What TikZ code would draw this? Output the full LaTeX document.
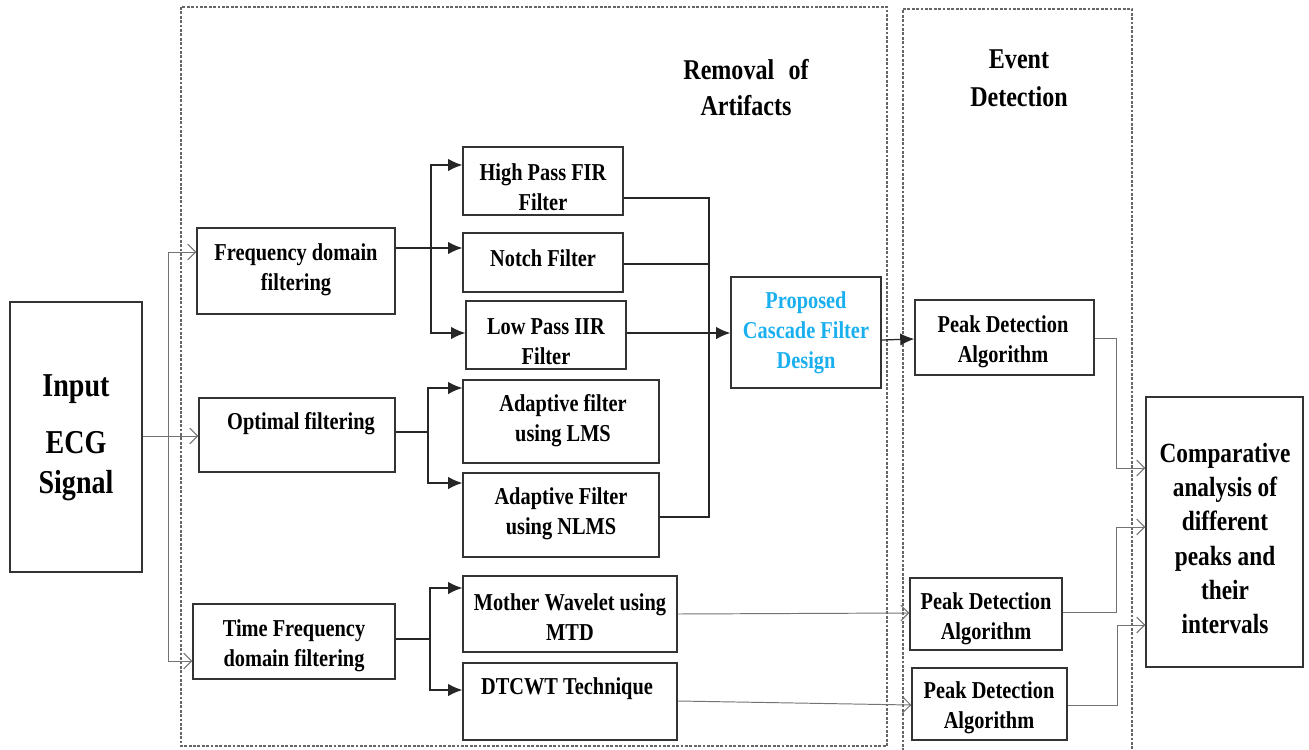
\documentclass[tikz,border=0pt]{standalone}
\usepackage{fontspec}
\setmainfont{Liberation Serif}[FakeStretch=0.84]
\usetikzlibrary{arrows.meta,fit}
\definecolor{cascadeblue}{HTML}{1AAFEF}

\begin{document}
\begin{tikzpicture}[x=0.02cm,y=-0.02cm,
  box/.style={draw=black!80, line width=0.8pt, inner sep=0pt},
  frame/.style={draw=black!60, dash pattern=on 1.6pt off 0.9pt, line width=0.6pt},
  lbl/.style={font=\bfseries\fontsize{13.8}{17}\selectfont, align=center, inner sep=0pt, yshift=-1.4pt},
  feed/.style={line width=0.7pt, draw=black!85},
  fed/.style={feed, -{Latex[length=8pt,width=7pt]}},
  wire/.style={line width=0.55pt, draw=black!55},
  wirearr/.style={wire, -{Straight Barb[length=4.5pt,width=9pt]}},
]
\useasboundingbox (0,0) rectangle (1309,750);

% stage frames
\draw[frame] (181,7) rectangle (887,746);
\draw[frame] (903,760) -- (903,9) -- (1132,9) -- (1132,760);

\node[lbl, font=\bfseries\fontsize{16.3}{20.5}\selectfont] (ttl1) at (746,85) {Removal\enspace of\\Artifacts};
\node[lbl, font=\bfseries\fontsize{16.3}{21.5}\selectfont] (ttl2) at (1019,76) {Event\\Detection};

% input
\node[box, fit={(10,302) (142,572)}] (input) {};
\node[lbl, font=\bfseries\fontsize{19}{22}\selectfont] (in1) at (76,387) {Input};
\node[lbl, font=\bfseries\fontsize{19}{22}\selectfont] (in2) at (76,440) {ECG};
\node[lbl, font=\bfseries\fontsize{19}{22}\selectfont] (in3) at (76,483) {Signal};

% filtering families
\node[box, fit={(197,228) (395,314)}] (freq) {};
\node[lbl] at (296,267) {Frequency domain\\filtering};
\node[box, fit={(199,398) (395,472)}] (opt) {};
\node[lbl] at (301,421) {Optimal filtering};
\node[box, fit={(193,604) (395,679)}] (tf) {};
\node[lbl] at (294,643) {Time Frequency\\domain filtering};

% individual filters
\node[box, fit={(463,147) (623,215)}] (hp) {};
\node[lbl] at (543,185) {High Pass FIR\\Filter};
\node[box, fit={(463,233) (623,292)}] (notch) {};
\node[lbl] at (543,256) {Notch Filter};
\node[box, fit={(466,301) (626,369)}] (lp) {};
\node[lbl] at (546,339) {Low Pass IIR\\Filter};
\node[box, fit={(463,380) (659,463)}] (lms) {};
\node[lbl] at (563,418) {Adaptive filter\\using LMS};
\node[box, fit={(463,473) (659,557)}] (nlms) {};
\node[lbl] at (561,511) {Adaptive Filter\\using NLMS};
\node[box, fit={(463,576) (677,652)}] (mtd) {};
\node[lbl] at (570,615) {Mother Wavelet using\\MTD};
\node[box, fit={(463,663) (677,740)}] (dtc) {};
\node[lbl] at (567,686) {DTCWT Technique};

% cascade design
\node[box, fit={(731,277) (881,388)}] (casc) {};
\node[lbl, text=cascadeblue] at (806,330) {Proposed\\Cascade Filter\\Design};

% peak detection
\node[box, fit={(915,300) (1094,375)}] (pk1) {};
\node[lbl] at (1003,339) {Peak Detection\\Algorithm};
\node[box, fit={(910,578) (1062,650)}] (pk2) {};
\node[lbl] at (986,616) {Peak Detection\\Algorithm};
\node[box, fit={(912,668) (1067,740)}] (pk3) {};
\node[lbl] at (989,705) {Peak Detection\\Algorithm};

% comparison
\node[box, fit={(1146,397) (1303,667)}] (cmp) {};
\node[lbl, font=\bfseries\fontsize{15.8}{19.4}\selectfont] at (1225,536) {Comparative\\analysis of\\different\\peaks and\\their\\intervals};

% input fan-out
\coordinate (jin) at (168,436);
\draw[wire] (input.east |- jin) -- (jin);
\draw[wirearr] (jin) |- (freq.west |- 0,252);
\draw[wirearr] (jin) -- (opt.west |- jin);
\draw[wirearr] (jin) |- (tf.west |- 0,661);

% frequency domain branch
\coordinate (jf) at (431,248);
\draw[feed] (freq.east |- jf) -- (jf);
\draw[fed] (jf) -- (notch.west |- jf);
\draw[fed] (jf) |- (hp.west |- 0,165);
\draw[fed] (jf) |- (lp.west |- 0,333);

% optimal branch
\coordinate (jo) at (428,432);
\draw[feed] (opt.east |- jo) -- (jo);
\draw[fed] (jo) |- (lms.west |- 0,388);
\draw[fed] (jo) |- (nlms.west |- 0,483);

% time-frequency branch
\coordinate (jt) at (430,639);
\draw[feed] (tf.east |- jt) -- (jt);
\draw[fed] (jt) |- (mtd.west |- 0,588);
\draw[fed] (jt) |- (dtc.west |- 0,690);

% merge into the cascade design
\coordinate (jc) at (709,333);
\draw[feed] (hp.east |- 0,198) -| (jc);
\draw[feed] (notch.east |- 0,264) -| (jc);
\draw[feed] (nlms.east |- 0,517) -| (jc);
\draw[fed] (lp.east |- jc) -- (casc.west |- jc);

% to peak detection
\draw[fed] (casc.east |- 0,340) -- (pk1.west |- 0,339);
\draw[wirearr] (mtd.east |- 0,614) -- (pk2.west |- 0,613);
\draw[wirearr] (dtc.east |- 0,701) -- (pk3.west |- 0,705);

% to comparative analysis
\draw[wirearr] (pk1.east |- 0,338) -| (1116,468) -- (cmp.west |- 0,468);
\draw[wirearr] (pk2.east |- 0,612) -| (1116,527) -- (cmp.west |- 0,527);
\draw[wirearr] (pk3.east |- 0,705) -| (1117,625) -- (cmp.west |- 0,625);
\end{tikzpicture}
\end{document}
